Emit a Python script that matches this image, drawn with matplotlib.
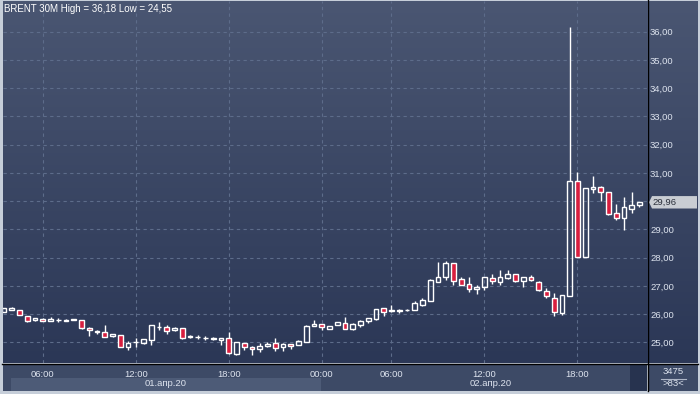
import matplotlib.pyplot as plt
import numpy as np
from matplotlib.colors import LinearSegmentedColormap
from matplotlib.patches import Polygon, Rectangle
from matplotlib.lines import Line2D

plt.rcParams['font.family'] = ['Liberation Sans', 'DejaVu Sans']

# 30M candles, BRENT, 01-02 Apr 2020
opens = [26.07, 26.15, 26.15, 25.94, 25.78, 25.84, 25.75, 25.79, 25.77, 25.80,
         25.80, 25.52, 25.38, 25.38, 25.22, 25.26, 24.85, 25.01, 24.97, 25.08,
         25.55, 25.55, 25.43, 25.50, 25.20, 25.19, 25.15, 25.13, 25.08, 25.14,
         24.58, 24.97, 24.85, 24.76, 24.87, 24.97, 24.85, 24.93, 24.91, 25.02,
         25.58, 25.65, 25.48, 25.62, 25.67, 25.48, 25.62, 25.77, 25.83, 26.20,
         26.10, 26.12, 26.13, 26.15, 26.32, 26.47, 27.15, 27.33, 27.80, 27.24,
         27.06, 26.89, 26.95, 27.29, 27.15, 27.27, 27.41, 27.17, 27.30, 27.15,
         26.82, 26.58, 26.05, 26.64, 30.72, 28.03, 30.42, 30.51, 30.31, 29.57,
         29.39, 29.73, 29.88]
highs = [26.22, 26.25, 26.16, 25.95, 25.86, 25.85, 25.90, 25.85, 25.82, 25.83,
         25.80, 25.53, 25.45, 25.61, 25.30, 25.27, 25.05, 25.14, 25.13, 25.62,
         25.71, 25.61, 25.55, 25.50, 25.27, 25.27, 25.21, 25.18, 25.16, 25.38,
         25.03, 24.98, 24.86, 24.97, 25.03, 25.14, 24.97, 24.96, 25.07, 25.60,
         25.79, 25.66, 25.59, 25.73, 25.89, 25.70, 25.79, 25.88, 26.19, 26.21,
         26.32, 26.17, 26.17, 26.45, 26.58, 27.23, 27.86, 27.88, 27.81, 27.32,
         27.33, 27.03, 27.31, 27.41, 27.56, 27.56, 27.42, 27.32, 27.39, 27.16,
         26.91, 26.74, 26.68, 36.18, 31.04, 30.47, 30.89, 30.52, 30.32, 29.90,
         30.16, 30.33, 29.97]
lows = [26.06, 26.14, 25.96, 25.73, 25.77, 25.75, 25.74, 25.72, 25.75, 25.79,
        25.49, 25.24, 25.31, 25.19, 25.20, 24.84, 24.73, 24.82, 24.95, 24.91,
        25.44, 25.29, 25.42, 25.12, 25.15, 25.13, 25.08, 25.08, 24.91, 24.60,
        24.56, 24.74, 24.55, 24.65, 24.85, 24.68, 24.68, 24.77, 24.90, 25.01,
        25.57, 25.44, 25.47, 25.61, 25.47, 25.45, 25.55, 25.70, 25.81, 25.94,
        26.08, 26.05, 26.11, 26.14, 26.30, 26.45, 27.14, 27.20, 27.03, 27.02,
        26.79, 26.70, 26.86, 27.07, 27.03, 27.25, 27.15, 26.97, 27.19, 26.83,
        26.56, 25.94, 25.96, 26.63, 28.02, 28.02, 30.28, 30.02, 29.52, 29.33,
        28.98, 29.59, 29.80]
closes = [26.20, 26.21, 25.97, 25.77, 25.85, 25.76, 25.82, 25.80, 25.79, 25.83,
          25.50, 25.43, 25.39, 25.20, 25.29, 24.85, 24.97, 25.03, 25.12, 25.61,
          25.56, 25.41, 25.50, 25.14, 25.21, 25.20, 25.14, 25.14, 25.14, 24.62,
          25.00, 24.85, 24.76, 24.87, 24.96, 24.81, 24.93, 24.88, 25.06, 25.57,
          25.65, 25.55, 25.58, 25.72, 25.48, 25.65, 25.77, 25.86, 26.18, 26.09,
          26.14, 26.16, 26.16, 26.38, 26.50, 27.21, 27.33, 27.80, 27.18, 27.03,
          26.89, 26.95, 27.30, 27.17, 27.30, 27.41, 27.17, 27.30, 27.21, 26.85,
          26.64, 26.06, 26.67, 30.70, 28.03, 30.45, 30.51, 30.31, 29.53, 29.39,
          29.78, 29.86, 29.96]

tick_pos = [5, 17, 29, 41, 50, 62, 74]
tick_labels = ['06:00', '12:00', '18:00', '00:00', '06:00', '12:00', '18:00']
day_labels = ['01.апр.20', '02.апр.20']
day_centers = [20.9, 62.8]
price_ticks = list(range(25, 37))
last_price = 29.96
title = 'BRENT 30M High = 36,18 Low = 24,55'

W, H = 700, 394
red = '#d81e3f'
grid_c = '#5d6c8a'
text_c = '#dde3ee'


def box(x0, y0, x1, y1):
    # pixel box (top-left origin) -> figure fraction
    return [x0 / W, 1 - y1 / H, (x1 - x0) / W, (y1 - y0) / H]


def gradient(ax, top, bottom):
    cmap = LinearSegmentedColormap.from_list('g', [top, bottom])
    ax.imshow(np.linspace(0, 1, 256)[:, None], extent=[0, 1, 0, 1],
              transform=ax.transAxes, cmap=cmap, aspect='auto', zorder=0)


fig = plt.figure(figsize=(7, 3.94), dpi=100, facecolor='#c6ced9')

ax_r = fig.add_axes(box(648, 1, 698, 363), zorder=1)
ax = fig.add_axes(box(3, 1, 647, 363), zorder=2)
ax_b = fig.add_axes(box(3, 364, 647, 391), zorder=1)
ax_br = fig.add_axes(box(648, 364, 698, 391), zorder=1)

ylim = (24.27, 37.087)
xlim = (-0.13, 82.97)

# main price panel
gradient(ax, '#4a5672', '#2b3756')
o, hi, lo, c = map(np.array, (opens, highs, lows, closes))
x = np.arange(len(o))
up = c >= o
b_lo = np.minimum(o, c)
b_hi = np.maximum(o, c)
ax.vlines(x, b_hi, hi, color='white', lw=1.0, zorder=3)
ax.vlines(x, lo, b_lo, color='white', lw=1.0, zorder=3)
faces = [(0, 0, 0, 0) if u else red for u in up]
ax.bar(x, np.maximum(b_hi - b_lo, 0.01), bottom=b_lo, width=0.64,
       color=faces, edgecolor='white', linewidth=1.0, zorder=4)

ax.set_xlim(*xlim)
ax.set_ylim(*ylim)
ax.set_yticks(price_ticks)
# the 30,00 label sits under the last-price marker
ax.set_yticklabels(['' if abs(v - last_price) < 0.3 else f'{v:.2f}'.replace('.', ',')
                    for v in price_ticks])
ax.yaxis.tick_right()
ax.set_xticks(tick_pos)
ax.set_xticklabels(tick_labels)
ax.tick_params(axis='y', length=0, pad=2.2, labelsize=6.8, labelcolor=text_c)
ax.tick_params(axis='x', length=0, pad=5, labelsize=6.8, labelcolor=text_c)
ax.grid(True, color=grid_c, ls=(0, (3, 3)), lw=0.8, zorder=1)
for s in ax.spines.values():
    s.set_visible(False)
ax.text(1 / 644, (363 - 9) / 362, title, transform=ax.transAxes,
        color='white', fontsize=7, va='center', ha='left', zorder=5)

# right price scale panel
gradient(ax_r, '#4a5672', '#2b3756')
ax_r.set_xlim(0, 50)
ax_r.set_ylim(*ylim)
ax_r.axis('off')
hh = 0.22
ax_r.add_patch(Polygon([(1, last_price), (4, last_price + hh), (49, last_price + hh),
                        (49, last_price - hh), (4, last_price - hh)],
                       closed=True, facecolor='#c9cdd3', edgecolor='none', zorder=3))
ax_r.text(4.5, last_price, f'{last_price:.2f}'.replace('.', ','), color='#2a2f3a',
          fontsize=6.8, va='center', ha='left', zorder=4)

# time panel
ax_b.set_facecolor('#3d4a66')
ax_b.set_xlim(*xlim)
ax_b.set_ylim(0, 1)
ax_b.add_patch(Rectangle((0.9, 0), 40.0, 0.49, facecolor='#4d5b77', edgecolor='none'))
ax_b.add_patch(Rectangle((80.8, 0), 2.2, 1, facecolor='#27334f', edgecolor='none'))
for xc, lab in zip(day_centers, day_labels):
    ax_b.text(xc, 0.26, lab, color=text_c, fontsize=6.8, ha='center', va='center')
ax_b.set_xticks([])
ax_b.set_yticks([])
for s in ax_b.spines.values():
    s.set_visible(False)

# bottom-right counter
ax_br.set_xlim(0, 50)
ax_br.set_ylim(0, 27)
ax_br.axis('off')
ax_br.add_patch(Rectangle((0, 0), 50, 27, facecolor='#3d4a66', edgecolor='none'))
ax_br.text(25, 19, '3475', color=text_c, fontsize=6.8, ha='center', va='center')
ax_br.plot([13, 38], [12.5, 12.5], color='#aeb6c6', lw=0.8)
ax_br.text(25, 7, '>83<', color=text_c, fontsize=6.8, ha='center', va='center')

# separators
fig.add_artist(Line2D([647.5 / W] * 2, [1, 1 - 391 / H], color='black', lw=1.0,
                      transform=fig.transFigure))
fig.add_artist(Line2D([2 / W, 698 / W], [1 - 363.5 / H] * 2, color='black', lw=1.0,
                      transform=fig.transFigure))

fig.savefig('out.png', dpi=100, facecolor=fig.get_facecolor())
